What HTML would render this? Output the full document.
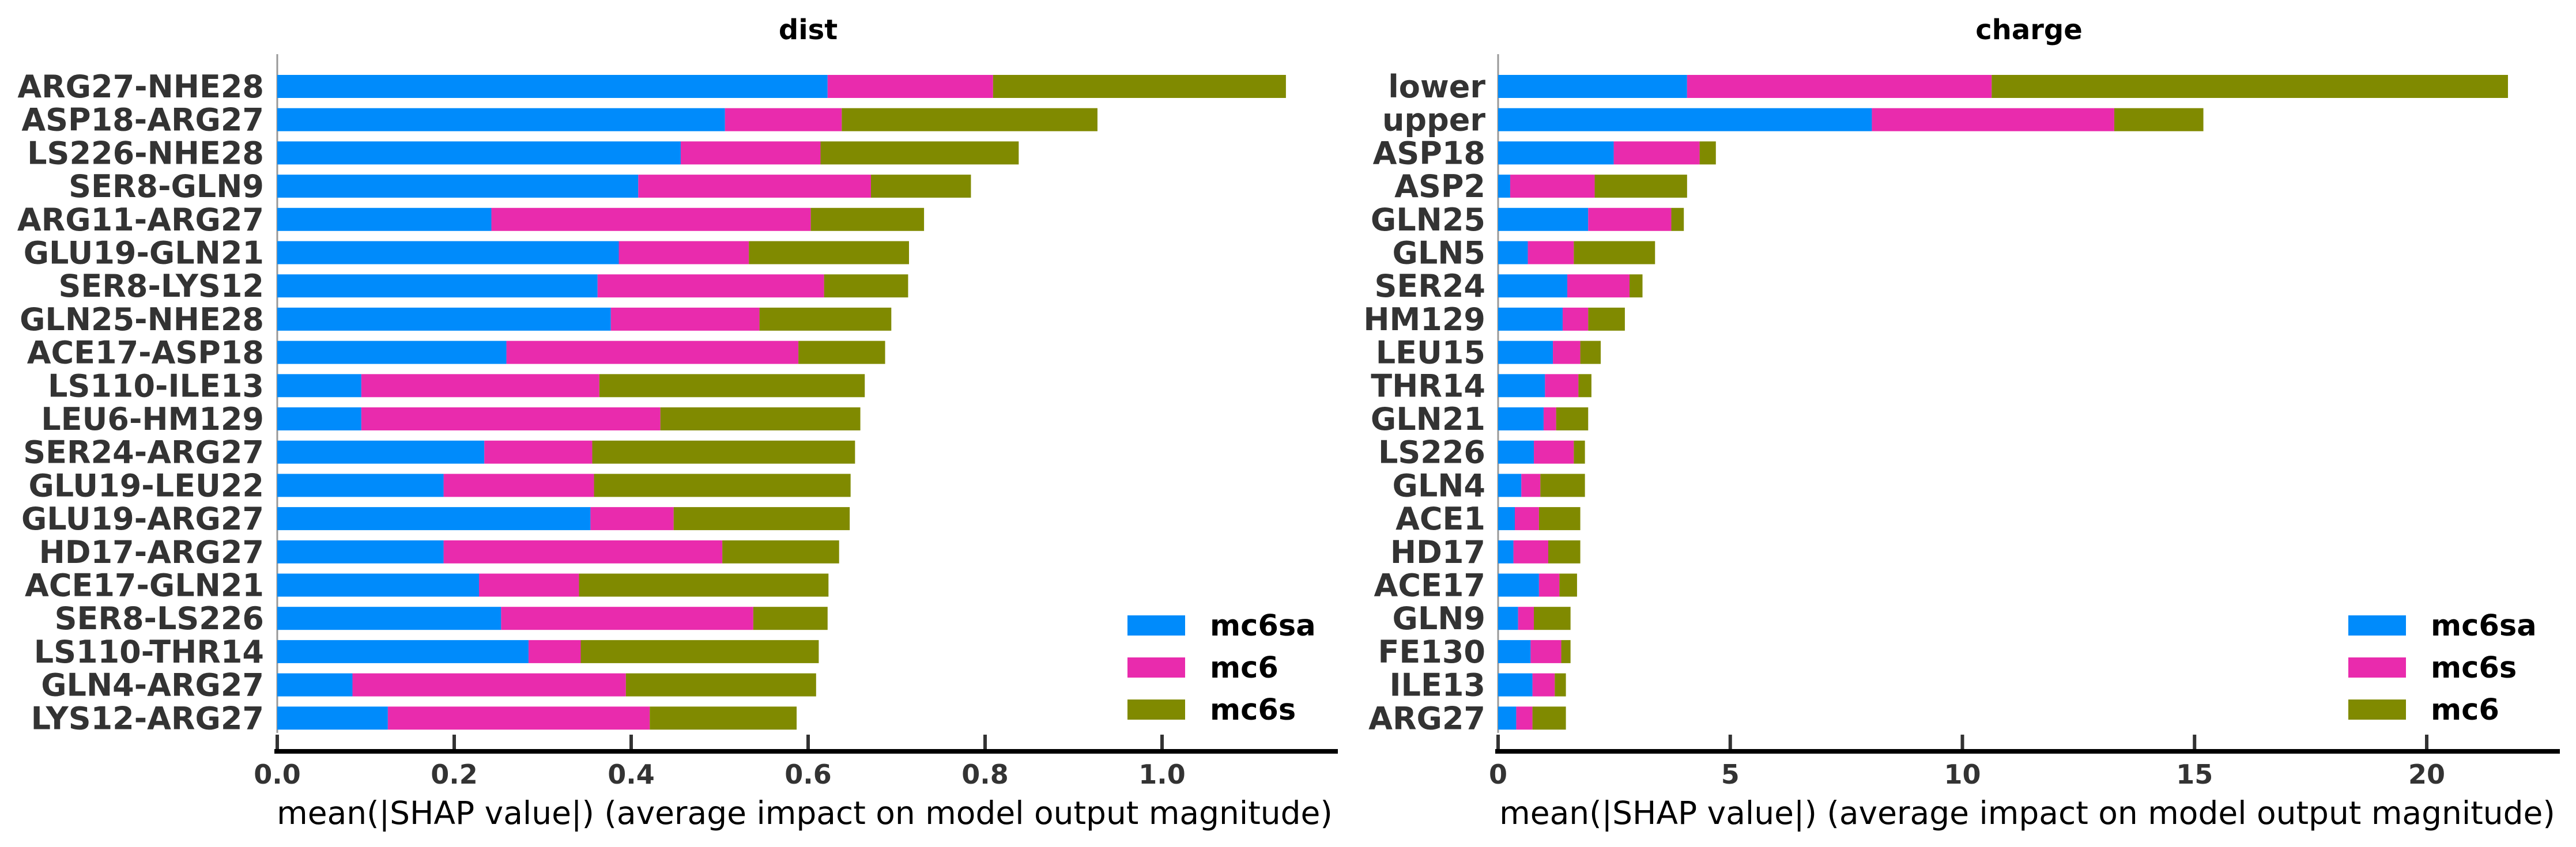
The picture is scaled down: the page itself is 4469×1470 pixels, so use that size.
<!DOCTYPE html>
<html><head><meta charset="utf-8">
<style>
html,body{margin:0;padding:0;background:#fff;}
svg{display:block;}
text{font-family:"DejaVu Sans","Liberation Sans",sans-serif;}
</style></head>
<body>
<svg id="chart" width="4469" height="1470" viewBox="0 0 4469 1470" xmlns="http://www.w3.org/2000/svg">
<g id="left"></g>
<g id="right"></g>
</svg>
<script>
// ---- dist panel data ----
const distFeatures = ["ARG27-NHE28","ASP18-ARG27","LS226-NHE28","SER8-GLN9","ARG11-ARG27","GLU19-GLN21","SER8-LYS12","GLN25-NHE28","ACE17-ASP18","LS110-ILE13","LEU6-HM129","SER24-ARG27","GLU19-LEU22","GLU19-ARG27","HD17-ARG27","ACE17-GLN21","SER8-LS226","LS110-THR14","GLN4-ARG27","LYS12-ARG27"];
const distMc6sa = [0.622,0.506,0.456,0.408,0.242,0.386,0.362,0.377,0.259,0.095,0.095,0.234,0.188,0.354,0.188,0.228,0.253,0.284,0.085,0.125];
const distMc6 = [0.187,0.132,0.158,0.263,0.361,0.147,0.256,0.168,0.330,0.269,0.338,0.122,0.170,0.094,0.315,0.113,0.285,0.059,0.309,0.296];
const distMc6s = [0.331,0.289,0.224,0.113,0.128,0.181,0.095,0.149,0.098,0.300,0.226,0.297,0.290,0.199,0.132,0.282,0.084,0.269,0.215,0.166];
const distTicks = ["0.0","0.2","0.4","0.6","0.8","1.0"];
const distTickVals = [0,0.2,0.4,0.6,0.8,1.0];
const distSeriesNames = ["mc6sa","mc6","mc6s"];
// ---- charge panel data ----
const chargeFeatures = ["lower","upper","ASP18","ASP2","GLN25","GLN5","SER24","HM129","LEU15","THR14","GLN21","LS226","GLN4","ACE1","HD17","ACE17","GLN9","FE130","ILE13","ARG27"];
const chargeMc6sa = [4.07,8.05,2.49,0.26,1.94,0.64,1.49,1.39,1.18,1.01,0.98,0.77,0.50,0.36,0.33,0.88,0.43,0.70,0.74,0.39];
const chargeMc6s = [6.56,5.22,1.85,1.82,1.79,0.99,1.34,0.55,0.59,0.72,0.27,0.86,0.41,0.52,0.75,0.44,0.34,0.66,0.48,0.35];
const chargeMc6 = [11.12,1.92,0.35,1.99,0.27,1.75,0.28,0.79,0.44,0.28,0.69,0.24,0.96,0.89,0.69,0.38,0.79,0.20,0.24,0.72];
const chargeTicks = ["0","5","10","15","20"];
const chargeTickVals = [0,5,10,15,20];
const chargeSeriesNames = ["mc6sa","mc6s","mc6"];

const COLORS = ["#008bfb","#e92bad","#808a00"];
const NS = "http://www.w3.org/2000/svg";
function mk(parent, tag, attrs, txt){
  const e = document.createElementNS(NS, tag);
  for (const k in attrs) e.setAttribute(k, attrs[k]);
  if (txt !== undefined) e.textContent = txt;
  parent.appendChild(e);
  return e;
}
function drawPanel(g, cfg){
  const xs = v => cfg.x0 + v*cfg.pxPer;
  const ys = i => 150 + i*57.7;
  const t = mk(g,"text",{x:cfg.titleX,y:68,"text-anchor":"middle","font-size":48,"font-weight":"bold",fill:"#000"},cfg.title);
  
  
  const sp = mk(g,"line",{x1:cfg.x0,y1:94,x2:cfg.x0,y2:1272,stroke:"#999","stroke-width":3});
  
  
  cfg.features.forEach((f,i)=>{
    const cy = ys(i);
    const lb = mk(g,"text",{x:cfg.labelX,y:cy+19,"text-anchor":"end","font-size":54,"font-weight":"bold",fill:"#333"},f);
    
    
    let acc = 0;
    cfg.series.forEach((s,si)=>{
      const v = s[i];
      const r = mk(g,"rect",{x:xs(acc),y:cy-20,width:Math.max(0,xs(acc+v)-xs(acc)),height:40,fill:COLORS[si]});
      
      
      acc += v;
    });
  });
  const ax = mk(g,"line",{x1:cfg.x0-5,y1:1304,x2:cfg.axEnd,y2:1304,stroke:"#000","stroke-width":8});
  
  
  cfg.tickVals.forEach((v,i)=>{
    const tk = mk(g,"line",{x1:xs(v),y1:1275,x2:xs(v),y2:1300,stroke:"#333","stroke-width":6});
    
    
    const tl = mk(g,"text",{x:xs(v),y:1360,"text-anchor":"middle","font-size":46,"font-weight":"bold",fill:"#333"},cfg.ticks[i]);
    
    
  });
  const xl = mk(g,"text",{x:cfg.xlabelX,y:1430,"text-anchor":"middle","font-size":55,fill:"#000"},"mean(|SHAP value|) (average impact on model output magnitude)");
  
  
  const lg = mk(g,"g",{});
  
  
  cfg.names.forEach((n,i)=>{
    const cy = 1086 + i*73;
    const sw = mk(lg,"rect",{x:cfg.legX,y:cy-18,width:100,height:35,fill:COLORS[i]});
    
    
    const lt = mk(lg,"text",{x:cfg.legX+143,y:cy+17,"font-size":51,"font-weight":"bold",fill:"#000"},n);
    
    
  });
}
drawPanel(document.getElementById("left"),{key:"dist",title:"dist",titleX:1402,x0:481,pxPer:1535,axEnd:2321,labelX:458,
  features:distFeatures,series:[distMc6sa,distMc6,distMc6s],names:distSeriesNames,ticks:distTicks,tickVals:distTickVals,
  xlabelX:1396,legX:1956});
drawPanel(document.getElementById("right"),{key:"charge",title:"charge",titleX:3520,x0:2599,pxPer:80.55,axEnd:4441,labelX:2577,
  features:chargeFeatures,series:[chargeMc6sa,chargeMc6s,chargeMc6],names:chargeSeriesNames,ticks:chargeTicks,tickVals:chargeTickVals,
  xlabelX:3517,legX:4074});
</script>
</body></html>
